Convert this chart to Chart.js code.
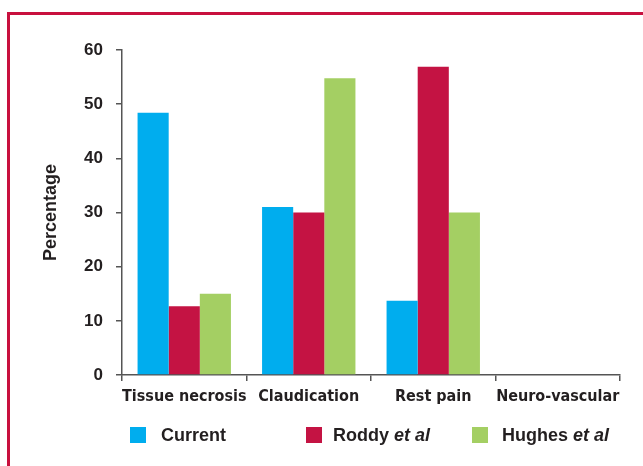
<!DOCTYPE html>
<html>
<head>
<meta charset="utf-8">
<script src="https://cdn.jsdelivr.net/npm/chart.js@4/dist/chart.umd.min.js"></script>
<style>
  html, body { margin: 0; padding: 0; background: #fff; }
  #wrap { position: relative; width: 643px; height: 466px; overflow: hidden; }
  #frame { position: absolute; left: 7px; top: 12px; width: 700px; height: 500px;
           border-top: 3px solid #C8103E; border-left: 3px solid #C8103E; }
  canvas { position: absolute; left: 0; top: 0; }
  .lg-box { position: absolute; top: 427px; width: 16px; height: 16px; }
  .lg-txt { position: absolute; top: 424px; font: bold 18px "Liberation Sans", Arial, sans-serif;
            color: #231F20; white-space: nowrap; line-height: 22px; }
  .lg-txt i { font-style: italic; }
</style>
</head>
<body>
<div id="wrap">
  <div id="frame"></div>
  <canvas id="c" width="643" height="466"></canvas>
  <div id="legend"></div>
</div>
<script>
const categories = ['Tissue necrosis', 'Claudication', 'Rest pain', 'Neuro-vascular'];
const seriesNames = ['Current', 'Roddy', 'Hughes'];
const seriesSuffix = ['', 'et al', 'et al'];
const current = [48.4, 31.0, 13.7, 0];
const roddy = [12.7, 30.0, 56.9, 0];
const hughes = [15.0, 54.8, 30.0, 0];
const yTicks = [0, 10, 20, 30, 40, 50, 60];

const colors = ['#00ADEE', '#C41343', '#A4CF63'];
const seriesValues = [current, roddy, hughes];

const legendBoxX = [130, 306, 472];
const legendTextX = [161, 333, 502];

const lg = document.getElementById('legend');
seriesNames.forEach((n, i) => {
  const b = document.createElement('div');
  b.className = 'lg-box';
  b.style.left = legendBoxX[i] + 'px';
  b.style.background = colors[i];
  lg.appendChild(b);
  const t = document.createElement('div');
  t.className = 'lg-txt';
  t.style.left = legendTextX[i] + 'px';
  t.textContent = n + (seriesSuffix[i] ? ' ' : '');
  if (seriesSuffix[i]) {
    const it = document.createElement('i');
    it.textContent = seriesSuffix[i];
    t.appendChild(it);
  }
  lg.appendChild(t);
});

const axisColor = '#555555';
new Chart(document.getElementById('c'), {
  type: 'bar',
  data: {
    labels: categories,
    datasets: seriesNames.map((n, i) => ({
      label: n + (seriesSuffix[i] ? ' ' + seriesSuffix[i] : ''),
      data: seriesValues[i],
      backgroundColor: colors[i],
      borderWidth: 0,
      categoryPercentage: 0.75,
      barPercentage: 1.0
    }))
  },
  options: {
    responsive: false,
    devicePixelRatio: 1,
    animation: false,
    layout: { padding: { left: 40, top: 50, right: 23, bottom: 0 } },
    plugins: { legend: { display: false }, tooltip: { enabled: false } },
    scales: {
      x: {
        grid: { display: true, drawOnChartArea: false, drawTicks: true, tickLength: 6, color: axisColor, lineWidth: 1.5, offset: true },
        border: { display: true, color: axisColor, width: 1.5 },
        ticks: { color: '#231F20', padding: 6, maxRotation: 0, autoSkip: false,
                 font: { family: '"DejaVu Sans Condensed", "Liberation Sans", sans-serif', size: 16, weight: 'bold' } },
        afterFit: (s) => { s.height = 91; }
      },
      y: {
        min: 0, max: 60,
        afterBuildTicks: (s) => { s.ticks = yTicks.map(v => ({ value: v })); },
        grid: { display: true, drawOnChartArea: false, drawTicks: true, tickLength: 6, color: axisColor, lineWidth: 1.5 },
        border: { display: true, color: axisColor, width: 1.5 },
        ticks: { color: '#231F20', padding: 13,
                 font: { family: '"Liberation Sans", Arial, sans-serif', size: 17, weight: 'bold' } },
        title: { display: true, text: 'Percentage', color: '#231F20', padding: { top: 0, bottom: 0 },
                 font: { family: '"Liberation Sans", Arial, sans-serif', size: 18, weight: 'bold' } },
        afterFit: (s) => { s.width = 82; }
      }
    }
  }
});
</script>
</body>
</html>
